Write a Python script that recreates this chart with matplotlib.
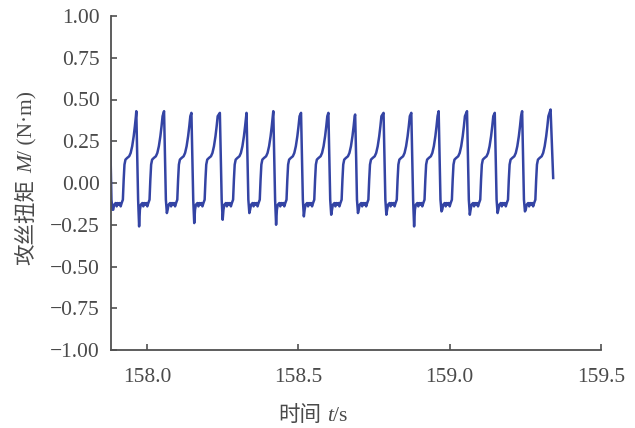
import numpy as np
import matplotlib
matplotlib.use('Agg')
import matplotlib.pyplot as plt

# peak instants (first one sits just left of the axis)
peak_t = [157.8765, 157.9646, 158.0563, 158.1467, 158.2407, 158.3288, 158.4172,
          158.5089, 158.5993, 158.6877, 158.7815, 158.8732, 158.9636, 159.0573,
          159.1490, 159.2394, 159.3334]
peak_v = [0.43, 0.43, 0.43, 0.42, 0.42, 0.42, 0.43, 0.42, 0.42, 0.41, 0.42,
          0.42, 0.43, 0.43, 0.42, 0.43, 0.44]
# dip right after each peak (none after the last one)
trough_v = [-0.16, -0.26, -0.18, -0.24, -0.22, -0.18, -0.25, -0.20, -0.19,
            -0.18, -0.19, -0.26, -0.17, -0.19, -0.18, -0.17]
end_t = 159.3420
end_v = 0.03

# one cycle of the trace, time after a peak (s) and torque (N·m)
cycle_dt = [0.0, 0.0033, 0.0060, 0.0093, 0.0119, 0.0149, 0.0199, 0.0232, 0.0265,
            0.0298, 0.0331, 0.0364, 0.0397, 0.0437, 0.0464, 0.0490, 0.0523,
            0.0579, 0.0646, 0.0695, 0.0745, 0.0795, 0.0834, 0.0868]
cycle_v = [0.43, 0.15, -0.10, -0.22, -0.16, -0.13, -0.12, -0.14, -0.12, -0.13,
           -0.12, -0.14, -0.12, -0.10, 0.02, 0.11, 0.14, 0.15, 0.16, 0.18,
           0.22, 0.28, 0.34, 0.40]

xticks = [158.0, 158.5, 159.0, 159.5]
yticks = [-1.0, -0.75, -0.5, -0.25, 0.0, 0.25, 0.5, 0.75, 1.0]

t, m = [], []
for i in range(len(trough_v)):
    v = list(cycle_v)
    v[0] = peak_v[i]
    v[3] = trough_v[i]
    t += [peak_t[i] + d for d in cycle_dt]
    m += v
t += [peak_t[-1], end_t]
m += [peak_v[-1], end_v]

txt_col = '#4a4a4a'
serif = ['Liberation Serif', 'DejaVu Serif']
cjk = ['Noto Sans CJK SC', 'DejaVu Sans']
fs = 15.5

fig = plt.figure(figsize=(6.35, 4.28), dpi=100)
ax = fig.add_axes([111/635, 1-350/428, 490/635, 334/428])
ax.plot(t, m, color='#3444a4', lw=1.8)

ax.set_xlim(157.881, 159.5)
ax.set_ylim(-1, 1)
ax.set_xticks(xticks)
ax.set_yticks(yticks)
ax.set_xticklabels(['%.1f' % x for x in xticks])
ax.set_yticklabels([('%.2f' % y).replace('-', '\u2212') for y in yticks])
for s in ['top', 'right']:
    ax.spines[s].set_visible(False)
for s in ['left', 'bottom']:
    ax.spines[s].set_color('#505050')
    ax.spines[s].set_linewidth(1.3)
ax.tick_params(direction='in', length=4, width=1.2, color='#505050',
               labelcolor=txt_col, labelsize=fs)
ax.tick_params(axis='x', pad=13)
ax.tick_params(axis='y', pad=8)
for lab in ax.get_xticklabels() + ax.get_yticklabels():
    lab.set_family(serif)

# axis titles built from pieces so the symbols can be italic
fig.canvas.draw()
r = fig.canvas.get_renderer()
W, H = fig.bbox.width, fig.bbox.height

def row(pieces, xc, yb):
    ts = [fig.text(0, yb / H, s, ha='left', va='baseline', color=txt_col,
                   fontsize=fs, **kw) for s, kw, g in pieces]
    ws = [tt.get_window_extent(r).width + g for tt, (s, kw, g) in zip(ts, pieces)]
    x = xc - sum(ws) / 2
    for tt, w in zip(ts, ws):
        tt.set_x(x / W)
        x += w

def col(pieces, xb, yc):
    ts = [fig.text(xb / W, 0, s, ha='left', va='baseline', color=txt_col,
                   fontsize=fs, rotation=90, rotation_mode='anchor', **kw)
          for s, kw, g in pieces]
    hs = [tt.get_window_extent(r).height + g for tt, (s, kw, g) in zip(ts, pieces)]
    y = yc - sum(hs) / 2
    for tt, h in zip(ts, hs):
        tt.set_y(y / H)
        y += h

row([('时间', dict(family=cjk), 6),
     ('t', dict(family=serif, style='italic'), 0),
     ('/s', dict(family=serif), 0)], 313, 428 - 421)
col([('攻丝扭矩', dict(family=cjk), 6),
     ('M', dict(family=serif, style='italic'), 0),
     ('/ (N·m)', dict(family=serif), 0)], 32, 428 - 178)

fig.savefig('out.png', dpi=100)
